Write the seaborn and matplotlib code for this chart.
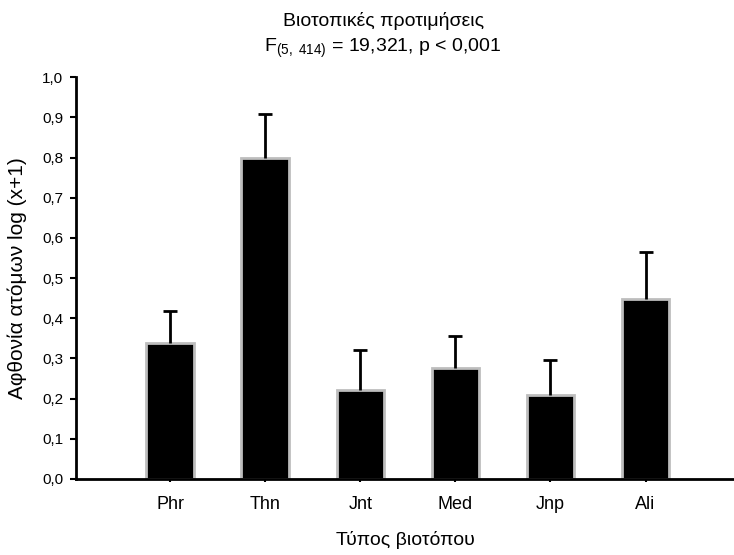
import matplotlib
matplotlib.use("Agg")
import matplotlib.pyplot as plt
import seaborn as sns
import numpy as np
import pandas as pd

categories = ["Phr", "Thn", "Jnt", "Med", "Jnp", "Ali"]
means = [0.339, 0.800, 0.222, 0.275, 0.208, 0.447]
upper = [0.418, 0.908, 0.322, 0.356, 0.295, 0.565]
yticks = [0.0, 0.1, 0.2, 0.3, 0.4, 0.5, 0.6, 0.7, 0.8, 0.9, 1.0]
ytick_labels = ["0,0", "0,1", "0,2", "0,3", "0,4", "0,5", "0,6", "0,7", "0,8", "0,9", "1,0"]

sns.set_style("white")
plt.rcParams["font.family"] = ["Liberation Sans", "DejaVu Sans"]
plt.rcParams["mathtext.fontset"] = "custom"
plt.rcParams["mathtext.rm"] = "Liberation Sans"
plt.rcParams["mathtext.it"] = "Liberation Sans"
plt.rcParams["text.color"] = "black"
plt.rcParams["axes.labelcolor"] = "black"
plt.rcParams["xtick.color"] = "black"
plt.rcParams["ytick.color"] = "black"

df = pd.DataFrame({"cat": categories, "mean": means})

fig = plt.figure(figsize=(7.34, 5.55), dpi=100)
ax = fig.add_axes([0.1035, 0.137, 0.8965, 0.724])

sns.barplot(data=df, x="cat", y="mean", order=categories, color="black",
            width=0.5, edgecolor="#bdbdbd", linewidth=2, ax=ax, errorbar=None,
            saturation=1)
for p in ax.patches:
    p.set_facecolor("black")

pos = np.arange(len(categories))
err = np.array(upper) - np.array(means)
eb = ax.errorbar(pos, means, yerr=[np.zeros_like(err), err], fmt="none",
                 ecolor="black", elinewidth=2, capsize=5, capthick=2, zorder=3)
caps = eb[1]
if len(caps) == 2:
    caps[0].set_visible(False)

ax.set_xlim(-0.99, 5.93)
ax.set_ylim(0, 1.0)
ax.set_yticks(yticks)
ax.set_yticklabels(ytick_labels, fontsize=11)
ax.set_xticks(pos)
ax.set_xticklabels(categories, fontsize=13)
ax.tick_params(axis="y", direction="out", length=4, width=1.5, pad=5, left=True)
ax.tick_params(axis="x", direction="inout", length=4, width=1.5, pad=10, bottom=True)

sns.despine(ax=ax, top=True, right=True)
for s in ["left", "bottom"]:
    ax.spines[s].set_linewidth(2)
    ax.spines[s].set_color("black")

ax.set_xlabel("Τύπος βιοτόπου", fontsize=14, labelpad=13)
ax.set_ylabel("Αφθονία ατόμων log (x+1)", fontsize=15, labelpad=11)

fig.text(0.522, 0.962, "Βιοτοπικές προτιμήσεις", ha="center", va="center", fontsize=14)
fig.text(0.522, 0.912, r"F$_{(5,\ 414)}$ = 19,321, p < 0,001", ha="center", va="center", fontsize=14)

fig.savefig("out.png", dpi=100)
